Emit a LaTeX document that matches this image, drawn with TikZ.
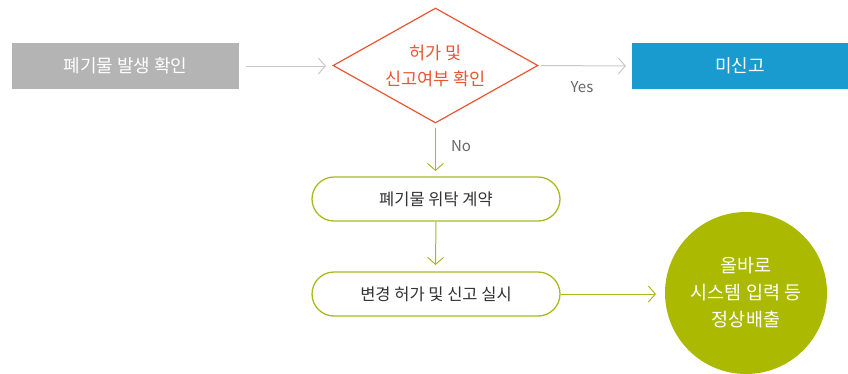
\documentclass[tikz,border=0pt]{standalone}
\usepackage{fontspec}
\setmainfont{Noto Sans CJK KR}
\usetikzlibrary{shapes.geometric,arrows.meta}
\definecolor{grayfill}{HTML}{B4B4B4}
\definecolor{grayline}{HTML}{C8C8C8}
\definecolor{redline}{HTML}{EA5532}
\definecolor{bluefill}{HTML}{1A9BD0}
\definecolor{greenc}{HTML}{ABBA00}
\definecolor{greenline}{HTML}{A9BA1F}
\definecolor{txt}{HTML}{333333}
\definecolor{lbl}{HTML}{666666}
\tikzset{
  every node/.style={font=\fontsize{16}{20}\selectfont},
  sqbox/.style={rectangle, minimum width=227pt, minimum height=46pt, inner sep=0pt, text=white, font=\fontsize{18}{20}\selectfont},
  roundbox/.style={rectangle, rounded corners=22pt, draw=greenline, line width=1.3pt, minimum width=248pt, minimum height=44pt, inner sep=0pt, text=txt, font=\fontsize{16.5}{20}\selectfont},
  decision/.style={diamond, draw=redline, line width=1.2pt, minimum width=205pt, minimum height=115pt, aspect=1.78, inner sep=0pt, text=redline, align=center, font=\fontsize{17.5}{26}\selectfont},
  grayarrow/.style={draw=grayline, line width=1pt, -{Straight Barb[length=7pt,width=16pt]}},
  greenarrow/.style={draw=greenline, line width=1pt, -{Straight Barb[length=7pt,width=16pt]}},
  lbltext/.style={text=lbl, font=\fontsize{15}{18}\selectfont}
}
\begin{document}
\begin{tikzpicture}[x=1pt,y=-1pt]
\useasboundingbox (0,0) rectangle (848,373);
\node[sqbox, fill=grayfill] (start) at (125.5,66) {폐기물 발생 확인};
\node[decision] (dec) at (435.5,65.5) {허가 및\\신고여부 확인};
\node[sqbox, fill=bluefill, minimum width=216pt] (blue) at (740,66) {미신고};
\node[roundbox] (b1) at (436,199) {폐기물 위탁 계약};
\node[roundbox] (b2) at (436,294) {변경 허가 및 신고 실시};
\node[circle, fill=greenc, minimum size=162pt, inner sep=0pt, text=white, align=center, font=\fontsize{18.5}{27}\selectfont] (circ) at (746,293) {올바로\\시스템 입력 등\\정상배출};
\coordinate (a1e) at (326,66);
\coordinate (a2e) at (626,66);
\coordinate (a3e) at (435.5,171);
\coordinate (a4e) at (435.5,265);
\coordinate (a5e) at (656,294);
\draw[grayarrow] (start.east) ++(7,0) -- (a1e);
\draw[grayarrow] (dec.east) ++(2,0) -- (a2e);
\draw[greenarrow] (dec.south) ++(0,4) -- (a3e);
\draw[greenarrow] (b1.south) -- (a4e);
\draw[greenarrow] (b2.east) -- (a5e);
\node[lbltext] (yes) at (582,87) {Yes};
\node[lbltext] (no) at (461,146) {No};
\end{tikzpicture}
\end{document}
